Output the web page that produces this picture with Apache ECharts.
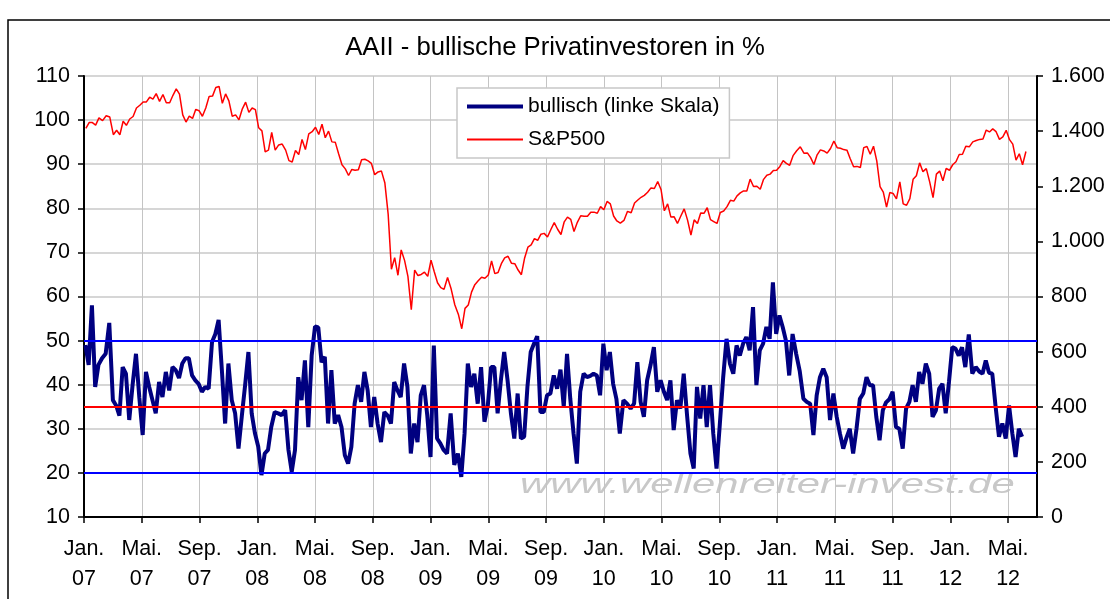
<!DOCTYPE html>
<html><head><meta charset="utf-8">
<script src="https://cdn.jsdelivr.net/npm/echarts@6/dist/echarts.min.js"></script>
<style>html,body{margin:0;padding:0;background:#fff}#c{width:1110px;height:599px}</style>
</head><body><div id="c"></div>
<script>
// weekly AAII bullish readings (%), first reading 2007-01-04
const bullStart = '2007-01-04';
const bullisch = [
49,44.5,58,39.5,44.5,46,47,54,36.5,35.3,33,44,42.5,32,40,47,37,28.6,42.9,39.5,
36.5,33.5,40.6,37.2,42.9,38.7,44,43.3,41.5,44.8,46,46,42.1,41,40.2,38.4,39.5,39.1,49.7,51.5,
54.7,43.3,31.2,44.8,36.5,33.5,25.5,33,40,47.4,33.5,29,
26,19.5,24.4,25.2,30.4,33.8,33.5,33.1,34.2,25.2,20.3,25.2,41.7,36.5,45.5,30.4,46.6,53.2,53,45.1,
46.3,31.2,43.3,31.2,33.1,30.4,24,22.1,25.9,35.7,39.9,36.1,42.9,38.7,30.4,37.2,31.2,27,33.8,33,
31.2,40.6,38.7,37.2,44.8,39.5,24.4,31.2,27,37.6,39.9,33,
23.6,48.9,27.8,26.7,25.2,24.4,33.5,21.8,24.4,19.1,28.9,44.8,39.5,42.5,35.7,44,31.6,35.3,44,44,
33.5,41,47.4,41,33.5,27.8,38,27.8,28.2,39.5,47.4,49.3,51,33.8,33.8,37.6,38,42.1,39.1,43.4,
35,47,36.8,29,22.1,38.4,42.5,41.7,42,42.5,42.1,37.6,
49.3,43.3,47.4,40.2,36.8,28.9,36.5,35.7,34.6,35.7,45.1,36.1,32.7,41,44.4,48.5,38.4,41,38.4,36.5,
41,29.7,36.5,34.6,42.5,33,24.4,21,39.5,32.3,39.9,30.4,39.9,28.9,21,31,41.7,50.4,44.8,42.5,
48.9,46.6,49.3,50.8,47.8,57.6,39.9,47.8,49.3,53.1,50.4,63.2,
51.5,55.7,53.1,50,42.1,51.5,47,43,36.8,36.1,35.7,28.6,37.6,41.7,43.6,41.7,32,38,32.7,28.9,
25.5,28,30,24.4,30,36.8,38,41.7,39.9,39.9,32.7,27.4,34.2,36,36.7,38.4,30.4,30,25.5,34.6,
36.1,39.9,36.1,42.9,40.2,44.8,42.5,32.7,34.2,39.1,40.2,33.5,40.6,48.5,48.2,46.6,48.5,44,51.4,42.5,
44,43,42.5,45.5,42.7,42.5,35,28.2,31.2,27.8,35.3,29,23.6,30,28.2
];
// weekly S&P500 closes, first close 2007-01-05
const spStart = '2007-01-05';
const sp500 = [
1410,1431,1431,1422,1448,1438,1456,1451,1387,1403,1387,1436,1421,1444,1453,1484,1494,1506,1506,1523,
1516,1536,1508,1533,1503,1503,1530,1553,1534,1459,1433,1454,1446,1479,1474,1454,1484,1526,1527,1558,
1562,1501,1535,1510,1454,1459,1441,1481,1505,1468,1484,1478,
1412,1401,1325,1331,1395,1331,1350,1353,1331,1293,1288,1330,1315,1370,1333,1390,1398,1414,1388,1425,
1376,1400,1361,1360,1318,1278,1263,1239,1261,1258,1260,1296,1298,1292,1283,1242,1252,1255,1213,1099,
899,941,877,969,931,873,752,896,876,880,888,873,
932,890,850,832,826,869,827,770,735,683,757,769,816,843,857,870,866,878,929,883,
887,919,940,946,921,919,896,879,940,979,987,1010,1004,1026,1029,1016,1043,1068,1044,1025,
1071,1088,1080,1036,1069,1093,1091,1091,1106,1106,1102,1126,1115,
1145,1136,1092,1074,1066,1076,1109,1104,1139,1150,1160,1167,1178,1194,1192,1217,1187,1111,1136,1088,
1089,1065,1092,1118,1077,1023,1078,1065,1103,1102,1122,1079,1072,1065,1105,1110,1126,1149,1146,1165,
1176,1183,1183,1226,1199,1200,1189,1225,1240,1244,1257,1258,
1272,1293,1283,1276,1311,1329,1343,1320,1321,1304,1279,1314,1332,1328,1320,1337,1364,1340,1338,1333,
1331,1300,1271,1272,1268,1340,1344,1316,1345,1292,1199,1179,1124,1177,1174,1154,1216,1136,1131,1155,
1225,1238,1285,1253,1264,1216,1159,1244,1255,1220,1265,1258,
1278,1289,1315,1316,1345,1343,1361,1366,1370,1371,1404,1397,1408,1398,1370,1379,1403,1369,1353,1295,
1318,1278,1326
];
const monthNames = {0:'Jan.', 4:'Mai.', 8:'Sep.'};
const refLines = [50, 35, 20];
const refColors = ['#0000ff', '#ff0000', '#0000ff'];

const FONT = "'Liberation Sans', Arial, sans-serif";
function monthIndex(d){
  const y=d.getUTCFullYear(), m=d.getUTCMonth(), day=d.getUTCDate();
  const dim=new Date(Date.UTC(y,m+1,0)).getUTCDate();
  return (y-2007)*12+m+(day-1)/dim;
}
function weekly(start, vals){
  const t0=new Date(start+'T00:00:00Z').getTime();
  return vals.map((v,i)=>[monthIndex(new Date(t0+i*7*864e5)), v]);
}
function fmtDe(v){ return String(v).replace(/\B(?=(\d{3})+(?!\d))/g,'.'); }

const chart = echarts.init(document.getElementById('c'), null, {renderer:'canvas'});
chart.setOption({
  animation:false,
  backgroundColor:'#fff',
  textStyle:{fontFamily:FONT},
  title:{text:'AAII - bullische Privatinvestoren in %', left:'center', top:30,
    textStyle:{fontSize:25.7, fontWeight:'normal', color:'#000', fontFamily:FONT}},
  graphic:[
    {type:'rect', shape:{x:8,y:20,width:1200,height:700}, style:{fill:'none', stroke:'#000', lineWidth:1.5}, z:0, silent:true},
    {type:'text', x:520, y:472, scaleX:1.55, z:0, silent:true,
     style:{text:'www.wellenreiter-invest.de', font:"italic 27px "+FONT, fill:'#c8c8c8'}}
  ],
  legend:{left:457, top:88, orient:'vertical', itemWidth:56, itemHeight:14, itemGap:12,
    padding:[8,10,8,10], borderColor:'#c8c8c8', borderWidth:1.5, backgroundColor:'#fff',
    textStyle:{fontSize:21, color:'#000', fontFamily:FONT},
    data:[
      {name:'bullisch (linke Skala)', icon:'path://M0 0H56V4H0Z'},
      {name:'S&P500', icon:'path://M0 0H56V2H0Z'}
    ]},
  grid:{left:84, top:76, right:73, bottom:82, show:true, borderColor:'#444', borderWidth:1.5, backgroundColor:'transparent'},
  xAxis:{type:'value', min:0, max:66, interval:4,
    axisLine:{lineStyle:{color:'#000', width:2}},
    axisTick:{length:6, lineStyle:{color:'#000', width:1.5}},
    splitLine:{show:true, lineStyle:{color:'#c4c4c4', width:1}},
    axisLabel:{fontSize:21.5, lineHeight:30, margin:17, color:'#000', fontFamily:FONT, showMaxLabel:false,
      formatter:v=>{ if(v%4!==0) return ''; const m=v%12; const y=7+Math.floor(v/12); return monthNames[m]+'\n'+String(y).padStart(2,'0'); }}},
  yAxis:[
    {type:'value', min:10, max:110, interval:10, position:'left',
     axisLine:{show:true, lineStyle:{color:'#000', width:2}},
     axisTick:{show:true, length:6, lineStyle:{color:'#000', width:1.5}},
     splitLine:{show:true, lineStyle:{color:'#d6d6d6', width:2}},
     axisLabel:{fontSize:21.5, margin:14, color:'#000', fontFamily:FONT}},
    {type:'value', min:0, max:1600, interval:200, position:'right',
     axisLine:{show:true, lineStyle:{color:'#000', width:2}},
     axisTick:{show:true, length:6, lineStyle:{color:'#000', width:1.5}},
     splitLine:{show:false},
     axisLabel:{fontSize:21.5, margin:14, color:'#000', fontFamily:FONT, formatter:fmtDe}}
  ],
  series:[
    {type:'line', yAxisIndex:0, data:[], z:1, silent:true,
     markLine:{silent:true, symbol:'none', label:{show:false}, animation:false,
       data:refLines.map((v,i)=>({yAxis:v, lineStyle:{color:refColors[i], width:2, type:'solid'}}))}},
    {name:'S&P500', type:'line', yAxisIndex:1, data:weekly(spStart, sp500), symbol:'none', showSymbol:false,
     lineStyle:{color:'#ff0000', width:1.5}, itemStyle:{color:'#ff0000'}, z:2},
    {name:'bullisch (linke Skala)', type:'line', yAxisIndex:0, data:weekly(bullStart, bullisch), symbol:'none', showSymbol:false,
     lineStyle:{color:'#000080', width:4}, itemStyle:{color:'#000080'}, z:3}
  ]
});
</script></body></html>
